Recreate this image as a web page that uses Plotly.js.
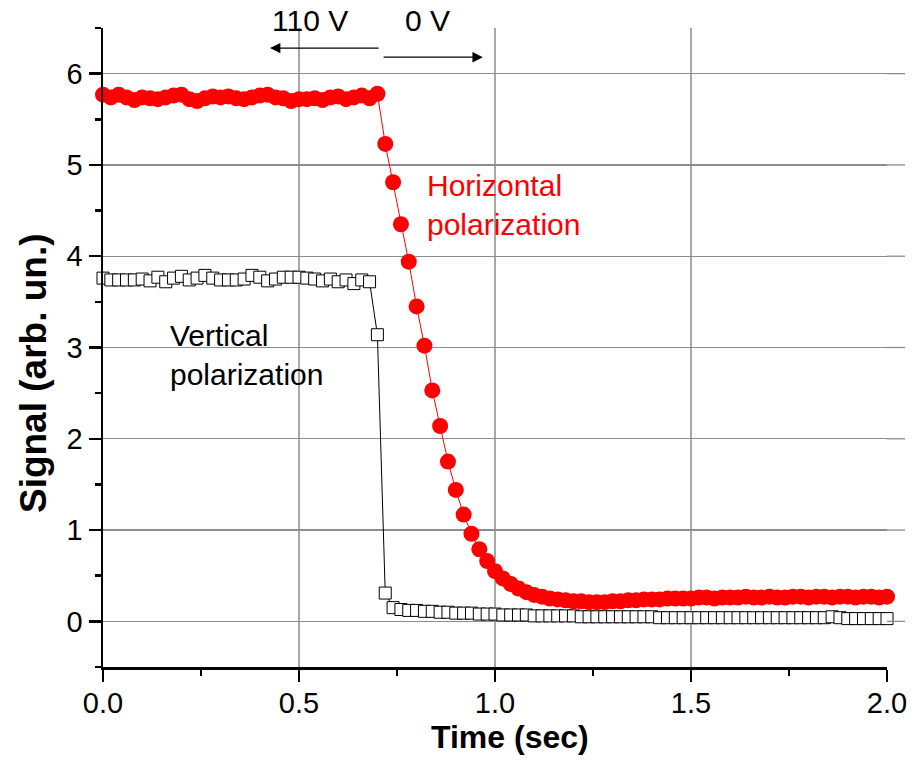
<!DOCTYPE html>
<html><head><meta charset="utf-8">
<script src="https://cdn.plot.ly/plotly-3.0.1.min.js"></script>
<style>html,body{margin:0;padding:0;background:#fff}#chart{width:912px;height:770px}</style>
</head><body><div id="chart"></div>
<script>
const time = [0.00,0.02,0.04,0.06,0.08,0.10,0.12,0.14,0.16,0.18,0.20,0.22,0.24,0.26,0.28,0.30,0.32,0.34,0.36,0.38,
0.40,0.42,0.44,0.46,0.48,0.50,0.52,0.54,0.56,0.58,0.60,0.62,0.64,0.66,0.68,0.70,0.72,0.74,0.76,0.78,
0.80,0.82,0.84,0.86,0.88,0.90,0.92,0.94,0.96,0.98,1.00,1.02,1.04,1.06,1.08,1.10,1.12,1.14,1.16,1.18,
1.20,1.22,1.24,1.26,1.28,1.30,1.32,1.34,1.36,1.38,1.40,1.42,1.44,1.46,1.48,1.50,1.52,1.54,1.56,1.58,
1.60,1.62,1.64,1.66,1.68,1.70,1.72,1.74,1.76,1.78,1.80,1.82,1.84,1.86,1.88,1.90,1.92,1.94,1.96,1.98,2.00];

const horizontal = [5.77,5.74,5.77,5.74,5.71,5.74,5.73,5.72,5.74,5.76,
5.77,5.72,5.70,5.73,5.75,5.74,5.75,5.73,5.72,5.74,
5.76,5.77,5.74,5.73,5.70,5.72,5.72,5.73,5.71,5.74,
5.75,5.72,5.74,5.76,5.73,5.78,
5.23,4.81,4.35,3.94,3.45,3.02,2.53,2.14,1.75,1.44,
1.17,0.96,0.79,0.66,0.55,0.47,0.41,0.36,0.32,0.29,
0.27,0.25,0.24,0.23,0.22,0.22,0.21,0.21,0.21,0.22,
0.22,0.23,0.23,0.24,0.24,0.24,0.25,0.25,0.25,0.25,
0.26,0.26,0.25,0.26,0.26,0.26,0.27,0.26,0.26,0.27,
0.26,0.26,0.27,0.27,0.26,0.27,0.27,0.26,0.27,0.27,
0.26,0.27,0.27,0.26,0.27];

const vertical = [3.76,3.74,3.74,3.74,3.74,3.75,3.73,3.77,3.72,3.76,
3.78,3.74,3.76,3.79,3.76,3.74,3.74,3.74,3.75,3.79,
3.77,3.73,3.75,3.77,3.77,3.77,3.76,3.75,3.73,3.75,
3.72,3.74,3.70,3.74,3.72,3.14,
0.31,0.15,0.13,0.12,0.12,0.11,0.11,0.10,0.10,0.09,
0.09,0.09,0.08,0.08,0.08,0.07,0.07,0.07,0.07,0.06,
0.06,0.06,0.06,0.06,0.06,0.05,0.05,0.05,0.05,0.05,
0.05,0.05,0.05,0.05,0.05,0.04,0.04,0.04,0.04,0.04,
0.04,0.04,0.04,0.04,0.04,0.04,0.04,0.04,0.04,0.04,
0.04,0.04,0.04,0.04,0.04,0.04,0.04,0.05,0.04,0.03,
0.03,0.03,0.03,0.03,0.03];

const xTicks = [0, 0.5, 1.0, 1.5, 2.0];
const xTickText = ['0.0','0.5','1.0','1.5','2.0'];
const yTicks = [0,1,2,3,4,5,6];
const labels = {h:'Horizontal<br>polarization', v:'Vertical<br>polarization', left:'110 V', right:'0 V',
  xTitle:'<b>Time (sec)</b>', yTitle:'<b>Signal (arb. un.)</b>'};

const FONT = 'Arial, "Liberation Sans", sans-serif';
const yMin = -0.5, yMax = 6.5;

const traces = [
  {x: time, y: vertical, type:'scatter', mode:'lines+markers', cliponaxis:false,
   line:{color:'#000', width:1},
   marker:{symbol:'square', size:12, color:'#fff', line:{color:'#000', width:1}}},
  {x: time, y: horizontal, type:'scatter', mode:'lines+markers', cliponaxis:false,
   line:{color:'#ff0000', width:1},
   marker:{symbol:'circle', size:16, color:'#ff0000', line:{width:0}}}
];

const shapes = yTicks.map(v => ({type:'line', xref:'paper', yref:'paper', x0:1, x1:1.023,
  y0:(v-yMin)/(yMax-yMin), y1:(v-yMin)/(yMax-yMin), line:{color:'#8c8c8c', width:1.3}}));

const layout = {
  width:912, height:770,
  margin:{l:103, r:25, t:28, b:103},
  paper_bgcolor:'#fff', plot_bgcolor:'#fff',
  showlegend:false,
  font:{family:FONT, color:'#000'},
  xaxis:{range:[0,2.0], tickvals:xTicks, ticktext:xTickText,
    showline:true, linecolor:'#000', linewidth:2.5, mirror:false,
    ticks:'outside', ticklen:12, tickwidth:2.5, tickcolor:'#000', ticklabelstandoff:-3,
    minor:{dtick:0.25, tick0:0, ticks:'outside', ticklen:6, tickwidth:2.5, tickcolor:'#000', showgrid:false},
    showgrid:true, gridcolor:'#a8a8a8', gridwidth:1.3, zeroline:false,
    tickfont:{size:29, family:FONT}},
  yaxis:{range:[yMin,yMax], tickvals:yTicks,
    showline:true, linecolor:'#000', linewidth:2.5,
    ticks:'outside', ticklen:12, tickwidth:2.5, tickcolor:'#000',
    minor:{dtick:0.5, tick0:-0.5, ticks:'outside', ticklen:6, tickwidth:2.5, tickcolor:'#000', showgrid:false},
    showgrid:true, gridcolor:'#8c8c8c', gridwidth:1.3, zeroline:false,
    tickfont:{size:29, family:FONT}},
  shapes: shapes,
  annotations:[
    {x:0.519, y:-0.1095, xref:'paper', yref:'paper', text:labels.xTitle, showarrow:false, xanchor:'center', yanchor:'middle',
     font:{size:32, family:FONT}},
    {x:-0.0893, y:0.46, xref:'paper', yref:'paper', text:labels.yTitle, showarrow:false, textangle:-90, xanchor:'center', yanchor:'middle',
     font:{size:37, family:FONT}},
    {x:0.821, y:4.56, xref:'x', yref:'y', text:labels.h, showarrow:false, xanchor:'left', yanchor:'middle', align:'left',
     font:{size:30, color:'#ff0000', family:FONT}},
    {x:0.166, y:2.92, xref:'x', yref:'y', text:labels.v, showarrow:false, xanchor:'left', yanchor:'middle', align:'left',
     font:{size:30, color:'#000', family:FONT}},
    {x:0.528, y:1.0125, xref:'x', yref:'paper', text:labels.left, showarrow:false, yanchor:'middle', font:{size:30, family:FONT}},
    {x:0.829, y:1.0125, xref:'x', yref:'paper', text:labels.right, showarrow:false, yanchor:'middle', font:{size:30, family:FONT}},
    {x:0.426, y:6.28, ax:0.707, ay:6.28, xref:'x', yref:'y', axref:'x', ayref:'y', text:'', showarrow:true,
     arrowhead:2, arrowsize:1.6, arrowwidth:1.3, arrowcolor:'#000'},
    {x:0.969, y:6.18, ax:0.712, ay:6.18, xref:'x', yref:'y', axref:'x', ayref:'y', text:'', showarrow:true,
     arrowhead:2, arrowsize:1.6, arrowwidth:1.3, arrowcolor:'#000'}
  ]
};
Plotly.newPlot('chart', traces, layout, {staticPlot:true, displayModeBar:false});
</script></body></html>
